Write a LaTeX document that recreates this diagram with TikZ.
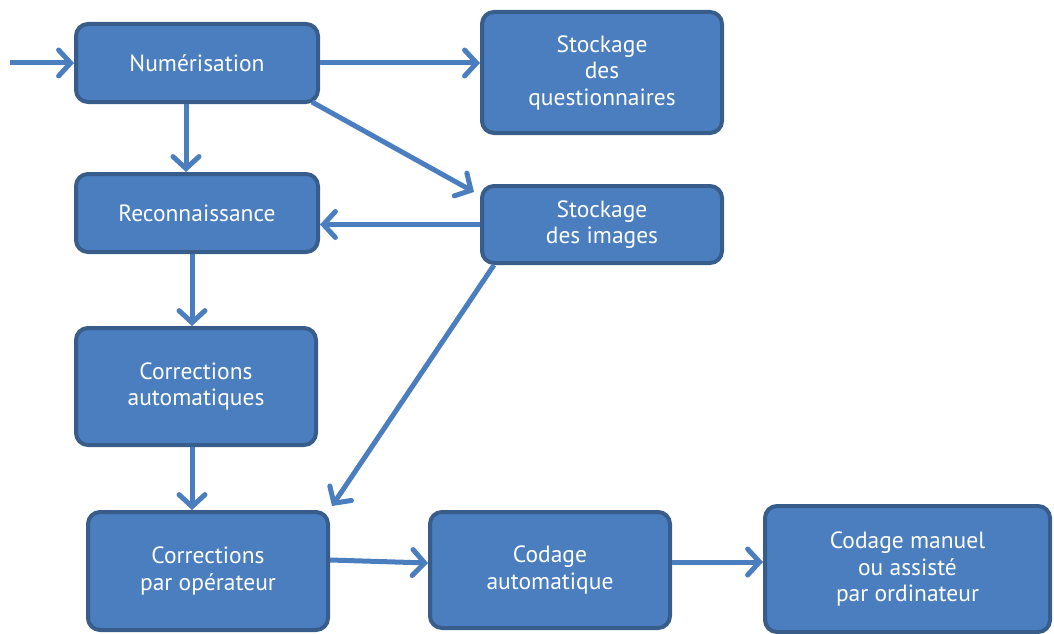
\documentclass[tikz,border=0pt]{standalone}
\usepackage{fontspec}
\setmainfont{PT Sans}
\usetikzlibrary{arrows.meta}
\definecolor{boxfill}{HTML}{4A7EBE}
\definecolor{boxline}{HTML}{385D8A}
\definecolor{arrowc}{HTML}{4A7EBE}
\begin{document}
\begin{tikzpicture}[x=1pt,y=-1pt,
  procbox/.style={draw=boxline,fill=boxfill,line width=4pt,rounded corners=12pt,
    text=white,align=center,font=\fontsize{23.5}{26.5}\selectfont,inner sep=0pt},
  flow/.style={draw=arrowc,line width=5pt,
    -{Straight Barb[length=12pt,width=26pt,line width=5pt,line cap=round]}}]
\useasboundingbox (0,0) rectangle (1054,634);
% process boxes
\node[procbox,minimum width=242pt,minimum height=78pt] (num) at (197,63) {Numérisation};
\node[procbox,minimum width=240pt,minimum height=121pt] (stq) at (602,72.5) {Stockage\\des\\questionnaires};
\node[procbox,minimum width=242pt,minimum height=78pt] (rec) at (197,213) {Reconnaissance};
\node[procbox,minimum width=240pt,minimum height=77pt] (sti) at (602,224.5) {Stockage\\des images};
\node[procbox,minimum width=240pt,minimum height=117pt] (cau) at (196,386.5) {Corrections\\automatiques};
\node[procbox,minimum width=240pt,minimum height=118pt] (cop) at (208,571) {Corrections\\par opérateur};
\node[procbox,minimum width=240pt,minimum height=116pt] (cda) at (550,570) {Codage\\automatique};
\node[procbox,minimum width=285pt,minimum height=126pt] (cdm) at (907.5,569) {Codage manuel\\ou assisté\\par ordinateur};
% connectors (shifts are in page direction: positive yshift is upwards)
\coordinate (in) at (10,63);
\draw[flow] (in) -- (num.west);
\draw[flow] (num.east) -- (stq.west |- num.east);
\draw[flow] ([xshift=-11pt]num.south) -- ([xshift=-11pt]num.south |- rec.north);
\draw[flow] ([xshift=-8pt,yshift=2pt]num.south east) -- ([xshift=-6pt,yshift=-8pt]sti.north west);
\draw[flow] (sti.west) -- (rec.east |- sti.west);
\draw[flow] ([xshift=-5pt]rec.south) -- ([xshift=-5pt]rec.south |- cau.north);
\draw[flow] ([xshift=-4pt]cau.south) -- ([xshift=-4pt]cau.south |- cop.north);
\draw[flow] ([xshift=14pt]sti.south west) -- ([xshift=2pt,yshift=4pt]cop.north east);
\draw[flow] ([yshift=11pt]cop.east) -- ([yshift=7pt]cda.west);
\draw[flow] ([yshift=8pt]cda.east) -- ([yshift=7pt]cdm.west);
\end{tikzpicture}
\end{document}
